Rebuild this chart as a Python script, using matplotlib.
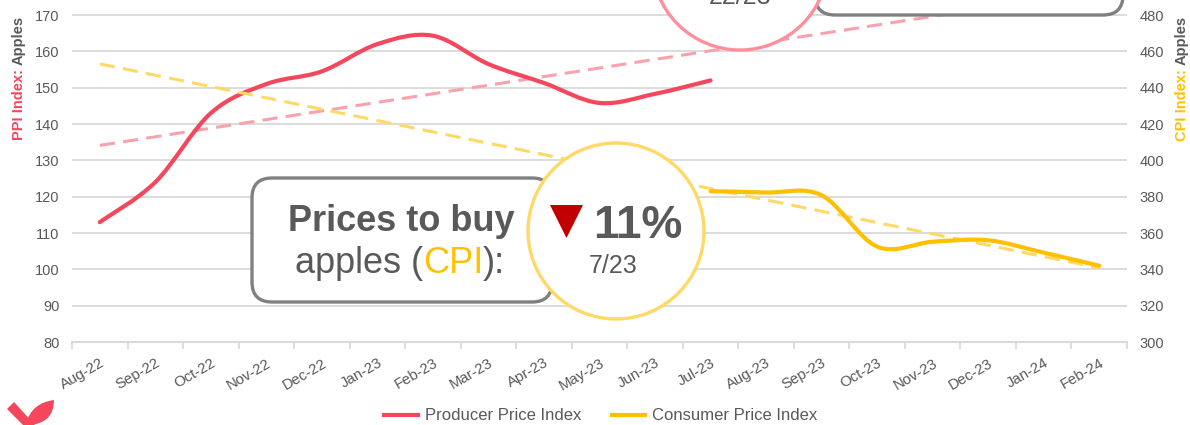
import numpy as np
import matplotlib
matplotlib.use("Agg")
import matplotlib.pyplot as plt
from matplotlib.path import Path
from matplotlib.patches import PathPatch, Circle, FancyBboxPatch, Polygon
from matplotlib.transforms import Affine2D
from matplotlib.lines import Line2D

plt.rcParams['font.family'] = ['Liberation Sans', 'DejaVu Sans']

# ---------------- data ----------------
months = ["Aug-22", "Sep-22", "Oct-22", "Nov-22", "Dec-22", "Jan-23", "Feb-23",
          "Mar-23", "Apr-23", "May-23", "Jun-23", "Jul-23", "Aug-23", "Sep-23",
          "Oct-23", "Nov-23", "Dec-23", "Jan-24", "Feb-24"]
ppi = [113, 124, 143, 151, 154.5, 162, 164.3, 156.5, 151.3, 145.8, 148.3, 152]
cpi = [383, 382.3, 380.8, 352.5, 355.2, 356, 349.2, 342]
cpi_start = 11  # CPI series begins at Jul-23

ppi_label = "Producer Price Index"
cpi_label = "Consumer Price Index"
ppi_lim = (80, 180)
cpi_lim = (300, 500)
ppi_ticks = list(range(80, 171, 10))
cpi_ticks = list(range(300, 481, 20))

# ---------------- style ----------------
RED = "#F4475D"
YEL = "#FFC000"
RED_TR = "#F9A2AD"
YEL_TR = "#FFD966"
PINK_C = "#FF8F9C"
GRAY = "#595959"
GRID = "#D9D9D9"
BOXC = "#808080"

W, H = 1190, 425
fig = plt.figure(figsize=(W / 100, H / 100), dpi=100)
# pixel (y down) -> figure
tr = Affine2D().scale(1, -1).translate(0, H).scale(1 / W, 1 / H) + fig.transFigure

ax_left, ax_right, ax_bot, ax_topval_px = 72, 1127, 342, -21.3
ax = fig.add_axes([ax_left / W, (H - ax_bot) / H, (ax_right - ax_left) / W,
                   (ax_bot - ax_topval_px) / H])
ax2 = ax.twinx()


def smooth_path(xs, ys):
    pts = np.column_stack([xs, ys]).astype(float)
    n = len(pts)
    verts = [pts[0]]
    codes = [Path.MOVETO]
    for i in range(n - 1):
        p0 = pts[i - 1] if i > 0 else pts[i]
        p1 = pts[i]
        p2 = pts[i + 1]
        p3 = pts[i + 2] if i + 2 < n else pts[i + 1]
        c1 = p1 + (p2 - p0) / 6.0
        c2 = p2 - (p3 - p1) / 6.0
        verts += [c1, c2, p2]
        codes += [Path.CURVE4] * 3
    return Path(verts, codes)


x_ppi = np.arange(len(ppi))
x_cpi = np.arange(cpi_start, cpi_start + len(cpi))
x_all = np.arange(len(months))

# trendlines (linear regression, as in the source chart)
k1, b1 = np.polyfit(x_ppi, ppi, 1)
k2, b2 = np.polyfit(x_cpi, cpi, 1)
ax.plot(x_all, k1 * x_all + b1, color=RED_TR, lw=2.2, dashes=(5, 2.7), zorder=2)
ax2.plot(x_all, k2 * x_all + b2, color=YEL_TR, lw=2.2, dashes=(5, 2.7), zorder=2)

ax.add_patch(PathPatch(smooth_path(x_ppi, ppi), fill=False, edgecolor=RED, lw=3,
                       capstyle='round', joinstyle='round', zorder=3))
ax2.add_patch(PathPatch(smooth_path(x_cpi, cpi), fill=False, edgecolor=YEL, lw=3,
                        capstyle='round', joinstyle='round', zorder=3))

ax.set_xlim(-0.5, len(months) - 0.5)
ax.set_ylim(*ppi_lim)
ax2.set_ylim(*cpi_lim)
ax.set_yticks(ppi_ticks)
ax2.set_yticks(cpi_ticks)
ax.yaxis.grid(True, color=GRID, lw=1.3)
ax.set_axisbelow(True)
for a in (ax, ax2):
    for s in a.spines.values():
        s.set_visible(False)
    a.tick_params(axis='y', length=0, labelsize=10.5, labelcolor=GRAY, pad=9)
ax.spines['bottom'].set_visible(True)
ax.spines['bottom'].set_color(GRID)
ax.spines['bottom'].set_linewidth(1.3)

ax.set_xticks(x_all)
ax.set_xticklabels(months, rotation=30, ha='right', rotation_mode='anchor')
ax.set_xticks(np.arange(-0.5, len(months), 1), minor=True)
ax.tick_params(axis='x', which='major', length=0, labelsize=10.8, labelcolor=GRAY, pad=10)
ax.tick_params(axis='x', which='minor', length=5, color=GRID, width=1.3)

# legend
handles = [Line2D([], [], color=RED, lw=3), Line2D([], [], color=YEL, lw=3)]
fig.legend(handles, [ppi_label, cpi_label], loc='center', ncol=2, frameon=False,
           bbox_to_anchor=(601 / W, 1 - 416 / H), fontsize=12, labelcolor=GRAY,
           handlelength=2.0, handletextpad=0.45, columnspacing=1.8)

renderer = fig.canvas.get_renderer()


def runs_h(runs, xc, baseline, size):
    """horizontal multi-colour text centered at xc (px), baseline (px, y down)"""
    txts = []
    for s, c, w in runs:
        t = fig.text(0, baseline, s, color=c, fontsize=size, fontweight=w,
                     ha='left', va='baseline', transform=tr, zorder=10)
        txts.append(t)
    widths = [t.get_window_extent(renderer).width for t in txts]
    total = sum(widths)
    x = xc - total / 2
    for t, wd in zip(txts, widths):
        t.set_x(x)
        x += wd


def runs_v(runs, xc, ycenter, size):
    """vertical (rot 90) multi-colour text, reading bottom to top"""
    txts = []
    for s, c, w in runs:
        t = fig.text(xc, 0, s, color=c, fontsize=size, fontweight=w, rotation=90,
                     ha='center', va='bottom', transform=tr, zorder=10,
                     rotation_mode='default')
        txts.append(t)
    heights = [t.get_window_extent(renderer).height for t in txts]
    total = sum(heights)
    y = ycenter + total / 2  # bottom in px (y down)
    for t, hh in zip(txts, heights):
        t.set_y(y)
        y -= hh


runs_v([("PPI Index: ", RED, 'bold'), ("Apples", GRAY, 'bold')], 19, 78, 10.5)
runs_v([("CPI Index: ", YEL, 'bold'), ("Apples", GRAY, 'bold')], 1182, 78, 10.5)

# ---- top callout (cropped in the source) ----
fig.add_artist(FancyBboxPatch((815, -130), 308, 145, boxstyle='round,pad=0,rounding_size=20',
                              facecolor='white', edgecolor=BOXC, lw=2.4, transform=tr, zorder=5))
fig.add_artist(Circle((740, -38), 88, facecolor='white', edgecolor=PINK_C, lw=2.4,
                      transform=tr, zorder=6))
fig.text(740, 4, "22/23", color=GRAY, fontsize=18, ha='center', va='baseline',
         transform=tr, zorder=10)

# ---- CPI callout ----
fig.add_artist(FancyBboxPatch((252, 178), 300, 124, boxstyle='round,pad=0,rounding_size=20',
                              facecolor='white', edgecolor=BOXC, lw=2.4, transform=tr, zorder=5))
fig.add_artist(Circle((616, 231), 88, facecolor='white', edgecolor=YEL_TR, lw=2.4,
                      transform=tr, zorder=6))
runs_h([("Prices to buy", GRAY, 'bold')], 401, 231, 26)
runs_h([("apples (", GRAY, 'normal'), ("CPI", YEL, 'normal'), ("):", GRAY, 'normal')], 400, 273, 26)
fig.add_artist(Polygon([(550, 205), (583, 205), (566.5, 238)], closed=True,
                       facecolor='#C00000', edgecolor='none', transform=tr, zorder=8))
fig.text(593, 238, "11%", color=GRAY, fontsize=33, fontweight='bold', ha='left',
         va='baseline', transform=tr, zorder=10)
fig.text(613, 273, "7/23", color=GRAY, fontsize=18, ha='center', va='baseline',
         transform=tr, zorder=10)

# ---- logo (sprout) ----
fig.add_artist(Polygon([(7, 409), (14, 402), (35, 425), (23, 425)], closed=True,
                       facecolor=RED, edgecolor='none', transform=tr, zorder=8))
leaf = Path([(26, 425), (29, 409), (40, 402), (54, 400), (54, 415), (46, 425), (26, 425)],
            [Path.MOVETO, Path.CURVE4, Path.CURVE4, Path.CURVE4, Path.CURVE4, Path.CURVE4, Path.CLOSEPOLY])
fig.add_artist(PathPatch(leaf, facecolor=RED, edgecolor='none', transform=tr, zorder=8))

fig.savefig("out.png", dpi=100)
